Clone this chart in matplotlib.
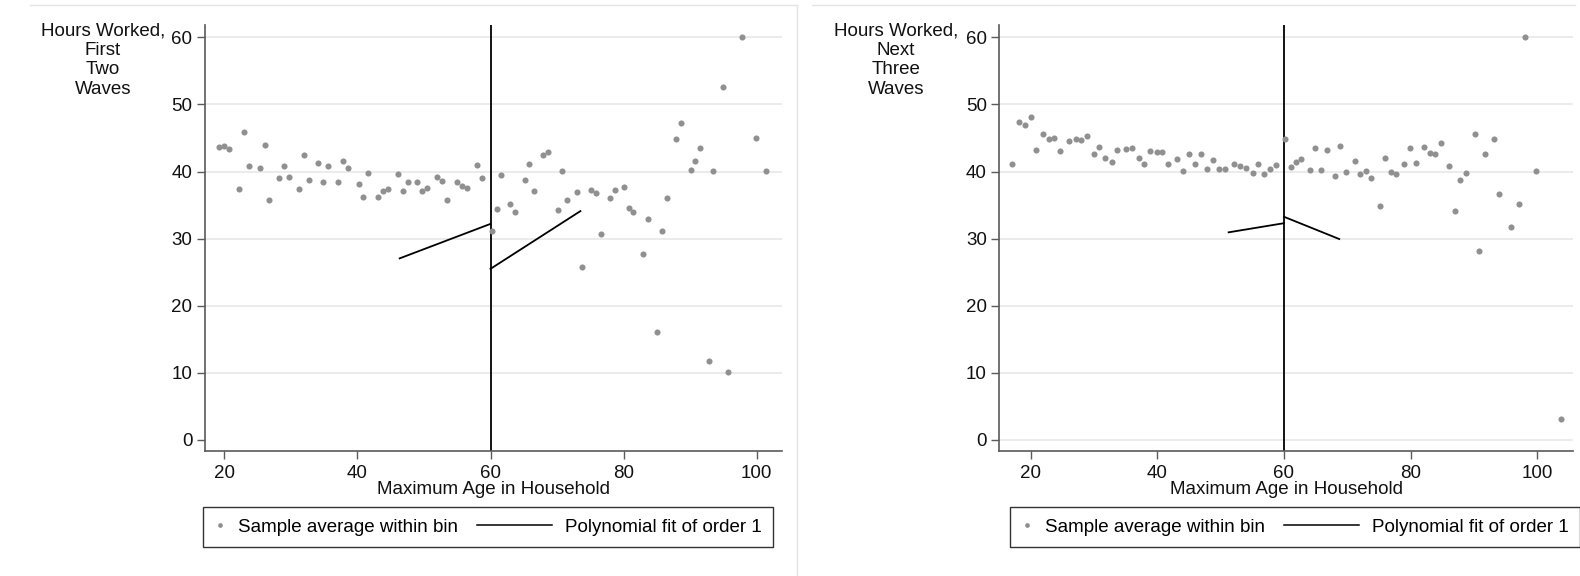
import matplotlib
matplotlib.use('Agg')
import matplotlib.pyplot as plt
from matplotlib.legend_handler import HandlerLine2D
from matplotlib.lines import Line2D

plt.rcParams['font.family'] = ['Liberation Sans', 'DejaVu Sans']

# ---------------- data ----------------
left_age = [19.25, 20.0, 20.75, 22.25, 22.95, 23.7, 25.3, 26.05, 26.75, 28.25, 29.0, 29.7, 31.2, 31.95,
            32.7, 34.15, 34.9, 35.65, 37.1, 37.85, 38.6, 40.2, 40.9, 41.65, 43.1, 43.85, 44.6, 46.1,
            46.8, 47.55, 49.0, 49.75, 50.5, 51.95, 52.7, 53.45, 55.0, 55.75, 56.5, 57.95, 58.7,
            60.25, 60.95, 61.55, 63.0, 63.75, 65.15, 65.85, 66.6, 67.95, 68.7, 70.15, 70.8, 71.5,
            73.0, 73.75, 75.1, 75.8, 76.55, 77.9, 78.65, 80.1, 80.75, 81.45, 82.95, 83.7, 85.0,
            85.75, 86.5, 87.85, 88.6, 90.05, 90.7, 91.4, 92.85, 93.5, 95.0, 95.7, 97.8, 99.9, 101.35]
left_hours = [43.7, 43.85, 43.4, 37.4, 45.85, 40.75, 40.55, 43.9, 35.8, 39.0, 40.8, 39.2, 37.4, 42.4,
              38.7, 41.3, 38.5, 40.8, 38.4, 41.55, 40.55, 38.15, 36.2, 39.8, 36.2, 37.15, 37.4, 39.65,
              37.15, 38.4, 38.5, 37.15, 37.55, 39.2, 38.65, 35.7, 38.5, 37.9, 37.55, 40.95, 39.0,
              31.1, 34.45, 39.5, 35.2, 33.95, 38.75, 41.05, 37.05, 42.45, 42.9, 34.2, 40.05, 35.7,
              36.95, 25.75, 37.3, 36.8, 30.7, 36.05, 37.2, 37.7, 34.6, 33.95, 27.75, 33.0, 16.15,
              31.1, 36.05, 44.8, 47.2, 40.2, 41.55, 43.5, 11.75, 40.05, 52.55, 10.1, 60.0, 45.0, 40.05]

right_age = [17.1, 18.1, 19.1, 20.0, 20.9, 21.9, 22.85, 23.75, 24.65, 26.05, 27.1, 28.0, 28.9, 29.95,
             30.85, 31.8, 32.85, 33.7, 35.05, 36.0, 37.05, 37.9, 38.85, 39.9, 40.8, 41.7, 43.1, 44.05,
             45.0, 45.95, 46.85, 47.85, 48.8, 49.7, 50.75, 52.1, 53.05, 53.95, 55.05, 55.95, 56.8,
             57.85, 58.75,
             60.1, 61.05, 61.9, 62.75, 64.05, 64.95, 65.85, 66.8, 68.05, 68.9, 69.85, 71.15, 72.05,
             72.95, 73.8, 75.15, 75.95, 76.85, 77.7, 79.0, 79.95, 80.8, 82.1, 83.05, 83.9, 84.85,
             86.1, 87.05, 87.85, 88.75, 90.15, 90.85, 91.8, 93.1, 93.95, 95.85, 97.1, 98.0, 99.8, 103.7]
right_hours = [41.05, 47.35, 46.95, 48.15, 43.15, 45.6, 44.9, 45.0, 43.05, 44.6, 44.9, 44.7, 45.35,
               42.65, 43.6, 41.95, 41.4, 43.25, 43.35, 43.45, 42.0, 41.05, 43.05, 42.95, 42.85, 41.05,
               41.8, 40.05, 42.65, 41.05, 42.65, 40.4, 41.7, 40.4, 40.4, 41.05, 40.8, 40.5, 39.8,
               41.05, 39.65, 40.35, 40.95,
               44.8, 40.7, 41.45, 41.85, 40.3, 43.5, 40.2, 43.15, 39.35, 43.75, 39.9, 41.55, 39.6,
               40.1, 39.1, 34.85, 41.95, 39.9, 39.6, 41.05, 43.5, 41.2, 43.6, 42.75, 42.65, 44.25,
               40.8, 34.1, 38.75, 39.75, 45.6, 28.15, 42.55, 44.8, 36.65, 31.8, 35.1, 60.0, 40.05, 3.15]

cutoff = 60
left_fit_below_x = [46.35, 60.0]
left_fit_below_y = [27.06, 32.2]
left_fit_above_x = [60.0, 73.5]
left_fit_above_y = [25.5, 34.1]
right_fit_below_x = [51.26, 60.0]
right_fit_below_y = [30.94, 32.3]
right_fit_above_x = [60.0, 68.73]
right_fit_above_y = [33.26, 29.94]

yticks = [0, 10, 20, 30, 40, 50, 60]
xticks = [20, 40, 60, 80, 100]
left_title = "Hours Worked,\nFirst\nTwo\nWaves"
right_title = "Hours Worked,\nNext\nThree\nWaves"
xlabel = "Maximum Age in Household"
legend_labels = ["Sample average within bin", "Polynomial fit of order 1"]

# ---------------- style ----------------
W, H = 1580, 576
FS = 13.5
DOT = '#909090'
GRID = '#ebebeb'
SPINE = '#5a5a5a'


class ExtendedLine(HandlerLine2D):
    def __init__(self, extend, **kw):
        super().__init__(**kw)
        self.extend = extend

    def get_xdata(self, legend, xdescent, ydescent, width, height, fontsize):
        xdata, xdata_marker = super().get_xdata(legend, xdescent, ydescent, width, height, fontsize)
        xdata = [-xdescent - self.extend * fontsize, -xdescent + width]
        return xdata, xdata_marker


fig = plt.figure(figsize=(W / 100, H / 100), dpi=100)
fig.patch.set_facecolor('white')

ax_top = 25
ax_bot = 451
panels = [
    dict(x0=205, x1=781.7, xlim=(17.1, 103.75), age=left_age, hours=left_hours,
         fb=(left_fit_below_x, left_fit_below_y), fa=(left_fit_above_x, left_fit_above_y),
         title=left_title, tx=103, grid0=False, lx=488),
    dict(x0=999.3, x1=1573.3, xlim=(15.04, 105.7), age=right_age, hours=right_hours,
         fb=(right_fit_below_x, right_fit_below_y), fa=(right_fit_above_x, right_fit_above_y),
         title=right_title, tx=896, grid0=True, lx=1295),
]

for p in panels:
    ax = fig.add_axes([p['x0'] / W, 1 - ax_bot / H, (p['x1'] - p['x0']) / W, (ax_bot - ax_top) / H])
    ax.set_xlim(*p['xlim'])
    ax.set_ylim(-1.64, 61.83)
    for g in yticks:
        if g == 0 and not p['grid0']:
            continue
        ax.axhline(g, color=GRID, lw=1.4, zorder=0)
    ax.axvline(cutoff, color='black', lw=1.3, zorder=2)
    ax.plot(p['age'], p['hours'], 'o', color=DOT, ms=4.4, mec='none', zorder=3)
    ax.plot(p['fb'][0], p['fb'][1], color='black', lw=1.3, zorder=4)
    ax.plot(p['fa'][0], p['fa'][1], color='black', lw=1.3, zorder=4)

    for s in ['top', 'right']:
        ax.spines[s].set_visible(False)
    for s in ['left', 'bottom']:
        ax.spines[s].set_color(SPINE)
        ax.spines[s].set_linewidth(1.2)
    ax.set_xticks(xticks)
    ax.set_yticks(yticks)
    ax.tick_params(axis='both', direction='out', length=6, width=1, color=SPINE,
                   labelsize=FS, labelcolor='#111111')
    ax.tick_params(axis='y', pad=3)
    ax.tick_params(axis='x', pad=4)
    ax.set_xlabel(xlabel, fontsize=FS, labelpad=-1, color='#111111')

    fig.text(p['tx'] / W, 1 - 23 / H, p['title'], ha='center', va='top', multialignment='center',
             fontsize=FS, linespacing=1.17, color='#111111')

    h_dot = Line2D([], [], ls='none', marker='o', color=DOT, ms=3.4, mec='none')
    h_line = Line2D([], [], color='black', lw=1.1)
    leg = ax.legend([h_dot, h_line], legend_labels, ncol=2, loc='upper center',
                    bbox_to_anchor=(p['lx'] / W, 1 - 498 / H), bbox_transform=fig.transFigure,
                    fontsize=FS, handlelength=0.6, handletextpad=0.7, columnspacing=4.4,
                    borderpad=0.6, frameon=True, fancybox=False, framealpha=1, numpoints=1,
                    handler_map={h_line: ExtendedLine(3.4)})
    leg.get_frame().set_edgecolor('#333333')
    leg.get_frame().set_linewidth(1.0)

# faint panel borders
border = '#e4e4e4'
fig.add_artist(Line2D([30 / W, 797 / W], [1 - 5 / H, 1 - 5 / H], transform=fig.transFigure, color=border, lw=1))
fig.add_artist(Line2D([797 / W, 797 / W], [1 - 5 / H, 0], transform=fig.transFigure, color=border, lw=1))
fig.add_artist(Line2D([812 / W, 1575 / W], [1 - 5 / H, 1 - 5 / H], transform=fig.transFigure, color=border, lw=1))

fig.savefig('out.png', dpi=100, facecolor='white')
